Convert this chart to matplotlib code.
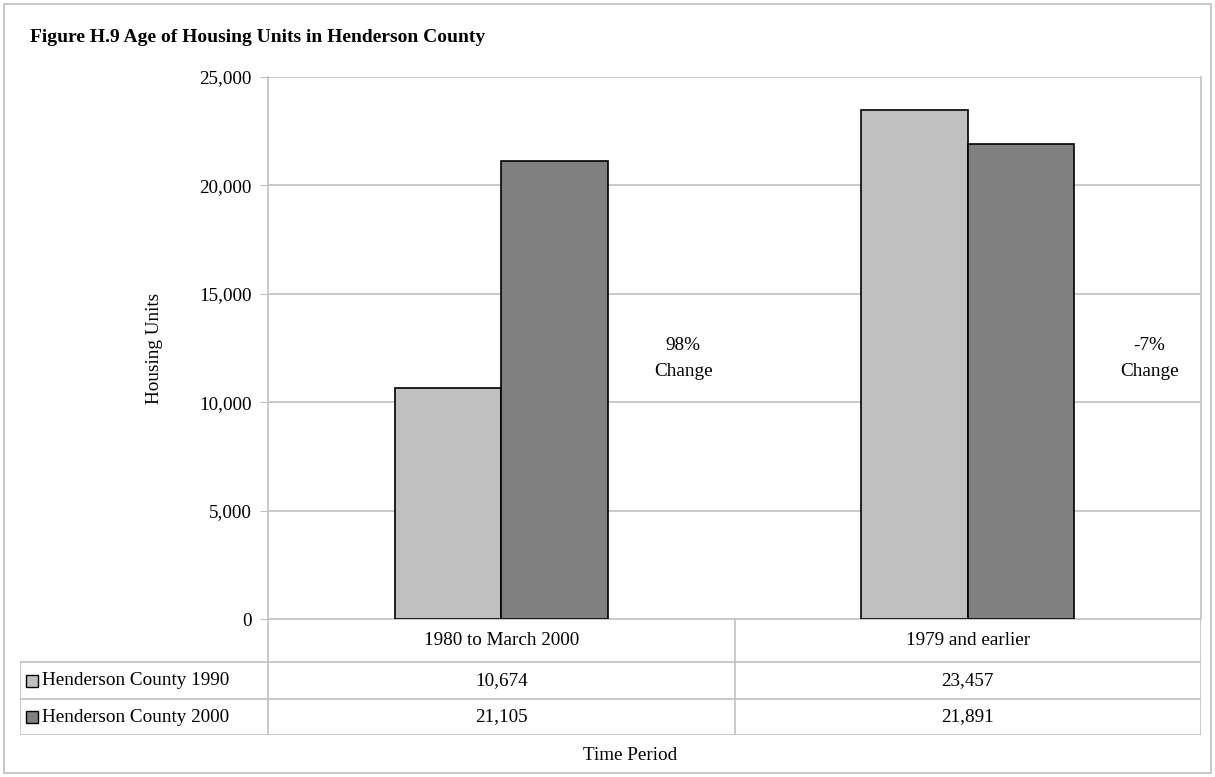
import numpy as np
import matplotlib.pyplot as plt
from matplotlib.patches import Rectangle
from matplotlib.lines import Line2D
from matplotlib.ticker import FuncFormatter

# data
categories = ["1980 to March 2000", "1979 and earlier"]
series_names = ["Henderson County 1990", "Henderson County 2000"]
units_1990 = [10674, 23457]
units_2000 = [21105, 21891]
change_labels = ["98%\nChange", "-7%\nChange"]

colors = ["#c0c0c0", "#808080"]
grid_col = "#c0c0c0"
FS = 13.8
plt.rcParams["font.family"] = "Liberation Serif"

W, H = 1215, 777
fig = plt.figure(figsize=(W / 100, H / 100), dpi=100)

def fx(px):
    return px / W

def fy(py):
    return 1 - py / H

# outer frame
fig.add_artist(Rectangle((fx(4), fy(773)), fx(1207), fy(4) - fy(773),
                         transform=fig.transFigure, fill=False, ec="#bfbfbf", lw=1.2))

L, R, T, B = 268, 1201, 77, 619
ax = fig.add_axes([fx(L), fy(B), fx(R - L), fy(T) - fy(B)])

x = np.arange(len(categories))
bw = 0.228
ax.bar(x - bw / 2, units_1990, bw, color=colors[0], edgecolor="black", lw=1.2, zorder=3)
ax.bar(x + bw / 2, units_2000, bw, color=colors[1], edgecolor="black", lw=1.2, zorder=3)

ax.set_xlim(-0.5, len(categories) - 0.5)
ax.set_ylim(0, 25000)
ax.set_yticks(np.arange(0, 25001, 5000))
ax.yaxis.set_major_formatter(FuncFormatter(lambda v, p: f"{int(v):,}"))
ax.set_xticks([])
ax.grid(axis="y", color=grid_col, lw=1.2, zorder=0)
for s in ["top", "bottom"]:
    ax.spines[s].set_visible(False)
for s in ["left", "right"]:
    ax.spines[s].set_color(grid_col)
    ax.spines[s].set_linewidth(1.2)
ax.tick_params(axis="y", length=6, color=grid_col, labelsize=FS, pad=6)
ax.set_ylabel("Housing Units", fontsize=FS, labelpad=26)

for i, lab in enumerate(change_labels):
    ax.text(i + 0.39, 12000, lab, ha="center", va="center", fontsize=FS, linespacing=1.7)

fig.text(fx(30), fy(38), "Figure H.9 Age of Housing Units in Henderson County",
         fontsize=14, fontweight="bold", va="center", ha="left")

# data table under the axes
TL, TB = 20, 735
row_y = [619, 662, 699, 735]
tax = fig.add_axes([fx(TL), fy(TB), fx(R - TL), fy(B) - fy(TB)])
tax.set_xlim(TL, R)
tax.set_ylim(TB, B)
tax.axis("off")
col_w = (R - L) / len(categories)
lk = dict(color=grid_col, lw=1.2)
for k, yy in enumerate(row_y):
    x0 = L if k == 0 else TL
    tax.add_line(Line2D([x0, R], [yy, yy], **lk))
tax.add_line(Line2D([TL, TL], [row_y[1], TB], **lk))
for j in range(len(categories) + 1):
    xx = L + j * col_w
    tax.add_line(Line2D([xx, xx], [B, TB], **lk))

for j, cat in enumerate(categories):
    cx = L + (j + 0.5) * col_w
    tax.text(cx, (row_y[0] + row_y[1]) / 2, cat, ha="center", va="center", fontsize=FS)
    for r, vals in enumerate([units_1990, units_2000]):
        tax.text(cx, (row_y[r + 1] + row_y[r + 2]) / 2, f"{vals[j]:,}",
                 ha="center", va="center", fontsize=FS)

for r, name in enumerate(series_names):
    yc = (row_y[r + 1] + row_y[r + 2]) / 2
    tax.add_patch(Rectangle((26, yc - 6), 12, 12, fc=colors[r], ec="black", lw=1))
    tax.text(42, yc, name, ha="left", va="center", fontsize=FS)

fig.text(fx((TL + R) / 2 + 20), fy(756), "Time Period", ha="center", va="center", fontsize=FS)

fig.savefig("out.png", dpi=100)
